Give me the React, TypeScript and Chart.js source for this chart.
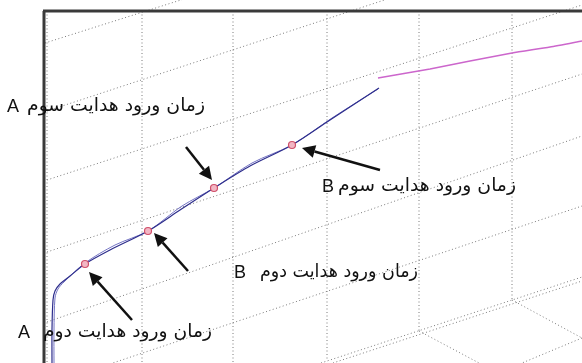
import React, { useEffect, useRef } from "react";
import { Chart, registerables } from "chart.js";
Chart.register(...registerables);

// dotted grid: vertical wall lines
const gridVerticalX = [47, 142, 233, 327, 419, 512];
const gridVerticalTopY = [11, 11, 11, 11, 11, 11];
const gridVerticalBottomY = [363, 363, 363, 361, 331, 300];

// dotted grid: slanted wall / floor lines (start and end)
const gridLineX1 = [45, 47, 47, 47, 47, 47, 321, 333, 512, 419, 582];
const gridLineY1 = [43, 111, 180, 252, 322, 385, 363, 363, 300, 331, 338];
const gridLineX2 = [582, 582, 582, 582, 582, 582, 582, 582, 582, 479, 522];
const gridLineY2 = [-127, -65, 5, 74, 136, 206, 277, 281, 338, 363, 363];

// trajectory (two close traces) and later segment
const traceAX = [52, 52, 53, 55, 60, 70, 85, 110, 148, 180, 214, 250, 292, 330, 379];
const traceAY = [363, 330, 300, 291, 284, 276, 264, 250, 231, 210, 188, 166, 145, 120, 88];
const traceBX = [54, 54, 55, 58, 64, 85, 115, 148, 182, 214, 252, 292, 332, 378];
const traceBY = [363, 330, 298, 289, 282, 263, 245, 231, 206, 188, 163, 145, 118, 89];
const pinkX = [378, 430, 470, 512, 550, 582];
const pinkY = [78, 69, 61, 53, 47, 41];

// guidance entry points
const markerX = [85, 148, 214, 292];
const markerY = [264, 231, 188, 145];

// frame
const frameTopX = [43, 582];
const frameTopY = [11, 11];
const frameLeftX = [44, 44];
const frameLeftY = [11, 363];

// arrows
const arrowTailX = [186, 380, 188, 132];
const arrowTailY = [147, 170, 271, 320];
const arrowTipX = [212, 302, 154, 89];
const arrowTipY = [180, 148, 233, 272];

// labels
const labelText = ["زمان ورود هدایت سوم", "زمان ورود هدایت سوم", "زمان ورود هدایت دوم", "زمان ورود هدایت دوم"];
const labelLetter = ["A", "B", "B", "A"];
const labelLetterX = [7, 322, 234, 18];
const labelTextLeft = [27, 338, 260, 43];
const labelTextRight = [205, 516, 418, 212];
const labelY = [106, 186, 272, 332];

const pts = (xs: number[], ys: number[]) => xs.map((x, i) => ({ x, y: ys[i] }));

const overlay = {
  id: "overlay",
  afterDatasetsDraw(chart: any) {
    const ctx = chart.ctx as CanvasRenderingContext2D;
    const xs = chart.scales.x;
    const ys = chart.scales.y;
    ctx.save();
    // arrows
    for (let i = 0; i < arrowTailX.length; i++) {
      const x1 = xs.getPixelForValue(arrowTailX[i]);
      const y1 = ys.getPixelForValue(arrowTailY[i]);
      const x2 = xs.getPixelForValue(arrowTipX[i]);
      const y2 = ys.getPixelForValue(arrowTipY[i]);
      const ang = Math.atan2(y2 - y1, x2 - x1);
      const headLen = 13;
      const headW = 6.5;
      const bx = x2 - headLen * Math.cos(ang);
      const by = y2 - headLen * Math.sin(ang);
      ctx.strokeStyle = "#111";
      ctx.lineWidth = 2.5;
      ctx.beginPath();
      ctx.moveTo(x1, y1);
      ctx.lineTo(bx, by);
      ctx.stroke();
      ctx.fillStyle = "#111";
      ctx.beginPath();
      ctx.moveTo(x2, y2);
      ctx.lineTo(bx + headW * Math.sin(ang), by - headW * Math.cos(ang));
      ctx.lineTo(bx - headW * Math.sin(ang), by + headW * Math.cos(ang));
      ctx.closePath();
      ctx.fill();
    }
    // labels
    ctx.fillStyle = "#111";
    ctx.textBaseline = "middle";
    for (let i = 0; i < labelText.length; i++) {
      const y = ys.getPixelForValue(labelY[i]);
      ctx.font = "18px 'Liberation Sans', 'DejaVu Sans', sans-serif";
      ctx.direction = "ltr";
      ctx.textAlign = "left";
      ctx.fillText(labelLetter[i], xs.getPixelForValue(labelLetterX[i]), y + 1);
      const left = xs.getPixelForValue(labelTextLeft[i]);
      const right = xs.getPixelForValue(labelTextRight[i]);
      ctx.font = "18px 'DejaVu Sans', sans-serif";
      ctx.direction = "rtl";
      ctx.textAlign = "right";
      const w = ctx.measureText(labelText[i]).width;
      const sx = (right - left) / w;
      ctx.save();
      ctx.translate(right, y);
      ctx.scale(sx, 1);
      ctx.fillText(labelText[i], 0, 0);
      ctx.restore();
    }
    ctx.restore();
  },
};

export default function App() {
  const ref = useRef<HTMLCanvasElement>(null);
  useEffect(() => {
    if (!ref.current) return;
    const gridDs: any[] = [];
    gridVerticalX.forEach((x, i) => {
      gridDs.push({
        data: [{ x, y: gridVerticalTopY[i] }, { x, y: gridVerticalBottomY[i] }],
        borderColor: "#7a7a7a",
        borderWidth: 1,
        borderDash: [1, 2.5],
        showLine: true,
        pointRadius: 0,
        order: 10,
      });
    });
    gridLineX1.forEach((x, i) => {
      gridDs.push({
        data: [{ x, y: gridLineY1[i] }, { x: gridLineX2[i], y: gridLineY2[i] }],
        borderColor: "#7a7a7a",
        borderWidth: 1,
        borderDash: [1, 2.5],
        showLine: true,
        pointRadius: 0,
        order: 10,
      });
    });
    const chart = new Chart(ref.current, {
      type: "scatter",
      data: {
        datasets: [
          {
            data: pts(markerX, markerY),
            pointStyle: "circle",
            pointRadius: 3.5,
            pointBorderColor: "#d0506a",
            pointBackgroundColor: "#f2b6c4",
            pointBorderWidth: 1.2,
            showLine: false,
            order: 0,
          },
          {
            data: pts(traceAX, traceAY),
            borderColor: "#2e2e8c",
            borderWidth: 1.2,
            showLine: true,
            pointRadius: 0,
            tension: 0.3,
            order: 2,
          },
          {
            data: pts(traceBX, traceBY),
            borderColor: "#7474c4",
            borderWidth: 1,
            showLine: true,
            pointRadius: 0,
            tension: 0.3,
            order: 3,
          },
          {
            data: pts(pinkX, pinkY),
            borderColor: "#cc66cc",
            borderWidth: 1.5,
            showLine: true,
            pointRadius: 0,
            tension: 0.2,
            order: 2,
          },
          {
            data: pts(frameTopX, frameTopY),
            borderColor: "#3a3a3a",
            borderWidth: 3,
            showLine: true,
            pointRadius: 0,
            order: 1,
          },
          {
            data: pts(frameLeftX, frameLeftY),
            borderColor: "#3a3a3a",
            borderWidth: 3,
            showLine: true,
            pointRadius: 0,
            order: 1,
          },
          ...gridDs,
        ],
      },
      options: {
        animation: false,
        responsive: false,
        maintainAspectRatio: false,
        layout: { padding: 0, autoPadding: false },
        plugins: { legend: { display: false }, tooltip: { enabled: false } },
        scales: {
          x: { type: "linear", min: 0, max: 582, display: false },
          y: { type: "linear", min: 0, max: 363, reverse: true, display: false },
        },
      },
      plugins: [overlay],
    });
    return () => chart.destroy();
  }, []);
  return (
    <div style={{ position: "absolute", left: 0, top: 0, width: 582, height: 363, background: "#fff" }}>
      <canvas ref={ref} width={582} height={363} />
    </div>
  );
}
